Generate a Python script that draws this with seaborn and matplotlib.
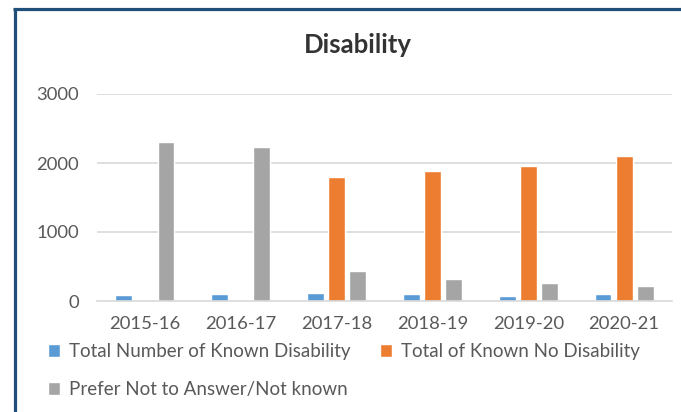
import matplotlib
matplotlib.use("Agg")
import matplotlib.pyplot as plt
from matplotlib.lines import Line2D
import seaborn as sns
import pandas as pd
import numpy as np

years = ["2015-16", "2016-17", "2017-18", "2018-19", "2019-20", "2020-21"]
series_names = ["Total Number of Known Disability",
                "Total of Known No Disability",
                "Prefer Not to Answer/Not known"]
known_disability = [80, 95, 110, 97, 77, 97]
known_no_disability = [np.nan, np.nan, 1800, 1880, 1960, 2105]
prefer_not = [2300, 2230, 430, 315, 256, 222]
colors = ["#5B9BD5", "#ED7D31", "#A5A5A5"]
yticks = [0, 1000, 2000, 3000]

rows = []
for name, vals in zip(series_names, [known_disability, known_no_disability, prefer_not]):
    for y, v in zip(years, vals):
        rows.append({"Year": y, "Series": name, "Value": v})
df = pd.DataFrame(rows).dropna()

sns.set_theme(style="white")
plt.rcParams["font.family"] = ["Lato", "DejaVu Sans"]

W, H = 681, 412
fig = plt.figure(figsize=(W / 100, H / 100), dpi=100)
ax = fig.add_axes([97 / W, 1 - 301 / H, (672 - 97) / W, (301 - 94) / H])

sns.barplot(data=df, x="Year", y="Value", hue="Series", order=years,
            hue_order=series_names, palette=colors, width=0.66, gap=0.2,
            errorbar=None, ax=ax, saturation=1, legend=True)

ax.set_ylim(0, 3000)
ax.set_xlim(-0.5, len(years) - 0.5)
ax.set_yticks(yticks)
ax.set_yticklabels([str(t) for t in yticks])
ax.set_xlabel("")
ax.set_ylabel("")
ax.grid(False)
for t in yticks[1:]:
    ax.axhline(t, color="#D9D9D9", lw=1.2, zorder=0)
for s in ["top", "right", "left"]:
    ax.spines[s].set_visible(False)
ax.spines["bottom"].set_color("#D9D9D9")
ax.spines["bottom"].set_linewidth(1.2)
ax.tick_params(axis="both", length=0, labelsize=13.3, colors="#595959")
ax.tick_params(axis="y", pad=13)
ax.tick_params(axis="x", pad=11)

handles, labels = ax.get_legend_handles_labels()
ax.get_legend().remove()
order = [0, 2, 1]
fig.legend([handles[i] for i in order], [labels[i] for i in order],
           loc="upper left", bbox_to_anchor=(48 / W, 1 - 343 / H), ncol=2,
           frameon=False, fontsize=13.5, handlelength=0.65, handleheight=0.65,
           handletextpad=0.45, columnspacing=1.6, labelspacing=1.12,
           borderpad=0, borderaxespad=0, labelcolor="#595959")

fig.text(358 / W, 1 - 45 / H, "Disability", ha="center", va="center",
         fontsize=18.5, fontweight="bold", color="#333333")

# chart frame border (left and top)
fig.add_artist(Line2D([14.5 / W, 14.5 / W], [0, 1 - 8.5 / H], color="#1F4E79",
                      lw=2.3, transform=fig.transFigure, solid_capstyle="butt"))
fig.add_artist(Line2D([13.3 / W, 1], [1 - 8.5 / H, 1 - 8.5 / H], color="#1F4E79",
                      lw=2.3, transform=fig.transFigure, solid_capstyle="butt"))

fig.savefig("out.png", dpi=100)
